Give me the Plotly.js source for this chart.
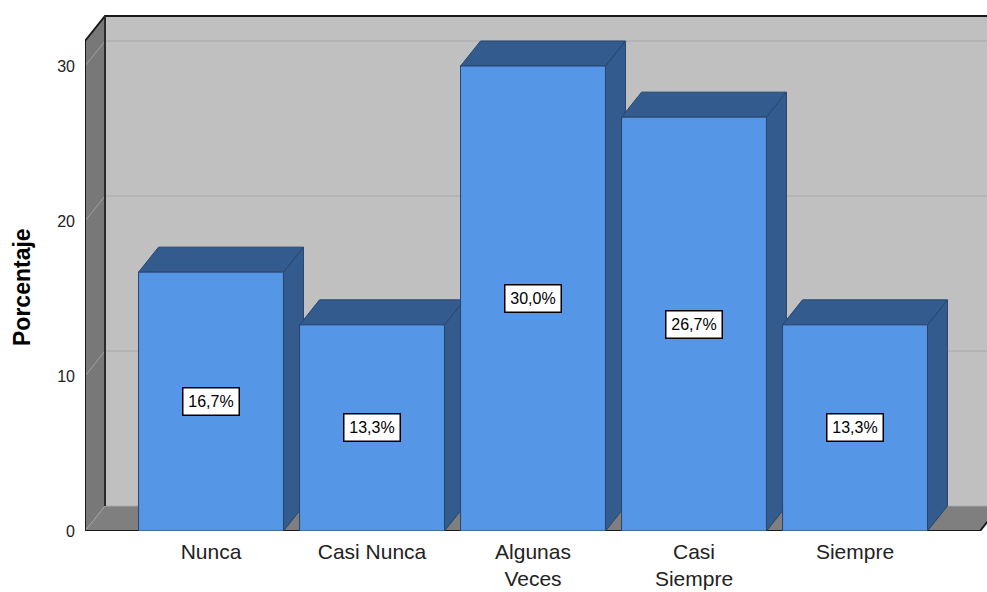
<!DOCTYPE html>
<html>
<head>
<meta charset="utf-8">
<script src="https://cdn.plot.ly/plotly-3.0.1.min.js"></script>
<style>
  html, body { margin: 0; padding: 0; background: #ffffff; }
  #chart { width: 987px; height: 592px; }
</style>
</head>
<body>
<div id="chart"></div>
<script>
// Frequency of answers, in percent of respondents
const categories = ['Nunca', 'Casi Nunca', 'Algunas<br>Veces', 'Casi<br>Siempre', 'Siempre'];
const percentages = [16.7, 13.3, 30.0, 26.7, 13.3];
const yTicks = [0, 10, 20, 30];

// Pseudo-3D frame geometry, in axis units
const PX_X = 161;            // pixels per category step
const PX_Y = 15.5;           // pixels per percentage point
const DEPTH_X = 20 / PX_X;   // horizontal depth offset
const DEPTH_Y = 25 / PX_Y;   // vertical depth offset
const X_MIN = -126 / PX_X;
const X_MAX = X_MIN + 902 / PX_X;
const Y_MAX = 531 / PX_Y;
const WALL_TOP = 515 / PX_Y;
const FLOOR_END = 769 / PX_X;
const BAR_W = 0.9;

const FRONT = '#5596e6';
const DEPTH_FACE = '#335b8e';
const EDGE = '#27466e';

const idx = categories.map((_, i) => i);

// Tops and right-hand sides of the bars (drawn beneath the fronts)
const depthTraces = [];
percentages.forEach((v, i) => {
  const l = i - BAR_W / 2, r = i + BAR_W / 2;
  depthTraces.push({
    type: 'scatter', mode: 'lines', fill: 'toself', hoverinfo: 'skip',
    x: [r, r + DEPTH_X, r + DEPTH_X, r, r],
    y: [0, DEPTH_Y, v + DEPTH_Y, v, 0],
    fillcolor: DEPTH_FACE, line: {color: EDGE, width: 1},
    xaxis: 'x', yaxis: 'y', showlegend: false
  });
  depthTraces.push({
    type: 'scatter', mode: 'lines', fill: 'toself', hoverinfo: 'skip',
    x: [l, r, r + DEPTH_X, l + DEPTH_X, l],
    y: [v, v, v + DEPTH_Y, v + DEPTH_Y, v],
    fillcolor: DEPTH_FACE, line: {color: EDGE, width: 1},
    xaxis: 'x', yaxis: 'y', showlegend: false
  });
});

// Bar fronts, on an overlaid pair of axes so they sit above the depth faces
const fronts = {
  type: 'bar', x: idx, y: percentages, width: BAR_W,
  marker: {color: FRONT, line: {color: EDGE, width: 1}},
  xaxis: 'x2', yaxis: 'y2', hoverinfo: 'skip', showlegend: false
};

// Walls, floor and grid
const shapes = [];
const path = pts => 'M' + pts.map(p => p[0] + ',' + p[1]).join(' L') + ' Z';
const openPath = pts => 'M' + pts.map(p => p[0] + ',' + p[1]).join(' L');
const XB = X_MIN + DEPTH_X;
const XR = X_MAX + 1;

shapes.push({type: 'rect', layer: 'below', xref: 'x', yref: 'y',
  x0: XB, x1: XR, y0: DEPTH_Y, y1: WALL_TOP,
  fillcolor: '#c0c0c0', line: {width: 0}});
shapes.push({type: 'path', layer: 'below', xref: 'x', yref: 'y',
  path: path([[X_MIN, 0], [XB, DEPTH_Y], [XB, WALL_TOP], [X_MIN, WALL_TOP - DEPTH_Y]]),
  fillcolor: '#787878', line: {width: 0}});
shapes.push({type: 'path', layer: 'below', xref: 'x', yref: 'y',
  path: path([[X_MIN, 0], [FLOOR_END, 0], [FLOOR_END + DEPTH_X, DEPTH_Y], [XR, DEPTH_Y], [XB, DEPTH_Y]]),
  fillcolor: '#7f7f7f', line: {width: 0}});
// corner seam between left wall and floor
shapes.push({type: 'line', layer: 'below', xref: 'x', yref: 'y',
  x0: X_MIN, y0: 0, x1: XB, y1: DEPTH_Y, line: {color: '#a2a2a2', width: 1}});
// seam between back wall and floor
shapes.push({type: 'line', layer: 'below', xref: 'x', yref: 'y',
  x0: XB, y0: DEPTH_Y, x1: XR, y1: DEPTH_Y, line: {color: '#a8a8a8', width: 1}});

yTicks.filter(t => t > 0).forEach(t => {
  shapes.push({type: 'line', layer: 'below', xref: 'x', yref: 'y',
    x0: XB, y0: t + DEPTH_Y, x1: XR, y1: t + DEPTH_Y,
    line: {color: '#b0b0b0', width: 1.5}});
  shapes.push({type: 'line', layer: 'below', xref: 'x', yref: 'y',
    x0: X_MIN, y0: t, x1: XB, y1: t + DEPTH_Y,
    line: {color: '#a0a0a0', width: 1}});
});

// dark frame edges
shapes.push({type: 'path', layer: 'below', xref: 'x', yref: 'y',
  path: openPath([[X_MIN, 0], [X_MIN, WALL_TOP - DEPTH_Y], [XB, WALL_TOP], [XR, WALL_TOP]]),
  line: {color: '#1a1a1a', width: 2}});
shapes.push({type: 'line', layer: 'below', xref: 'x', yref: 'y',
  x0: XB, y0: DEPTH_Y, x1: XB, y1: WALL_TOP, line: {color: '#2a2a2a', width: 2}});
shapes.push({type: 'path', layer: 'below', xref: 'x', yref: 'y',
  path: openPath([[X_MIN, 0], [FLOOR_END, 0], [FLOOR_END + DEPTH_X, DEPTH_Y]]),
  line: {color: '#1a1a1a', width: 2}});

// Value labels on the bar fronts
const fmt = v => v.toFixed(1).replace('.', ',') + '%';
const annotations = percentages.map((v, i) => ({
  xref: 'x', yref: 'y', x: i, y: v / 2, text: fmt(v), showarrow: false,
  font: {family: 'Arial, "Liberation Sans", sans-serif', size: 16, color: '#000'},
  bgcolor: '#ffffff', bordercolor: '#000000', borderwidth: 1.5, borderpad: 2,
  width: 51, height: 22
}));

// Axis title, placed at the vertical centre of the label column
annotations.push({
  xref: 'paper', yref: 'paper', x: (22 - 85) / 902, y: (531 - 287) / 531,
  xanchor: 'center', yanchor: 'middle', textangle: -90, showarrow: false,
  text: '<b>Porcentaje</b>',
  font: {family: 'Arial, "Liberation Sans", sans-serif', size: 23, color: '#000'}
});

const layout = {
  width: 987, height: 592,
  margin: {l: 85, r: 0, t: 0, b: 61, pad: 0},
  paper_bgcolor: '#ffffff', plot_bgcolor: 'rgba(0,0,0,0)',
  showlegend: false,
  font: {family: 'Arial, "Liberation Sans", sans-serif', color: '#222'},
  xaxis: {
    range: [X_MIN, X_MAX], tickvals: idx, ticktext: categories,
    showgrid: false, zeroline: false, showline: false, ticks: '',
    tickfont: {size: 21, color: '#222'}, ticklabelstandoff: 6,
    fixedrange: true, automargin: false
  },
  yaxis: {
    range: [0, Y_MAX], tickvals: yTicks,
    showgrid: false, zeroline: false, showline: false, ticks: '',
    tickfont: {size: 16, color: '#222'}, ticklabelstandoff: 9,
    fixedrange: true, automargin: false
  },
  xaxis2: {range: [X_MIN, X_MAX], overlaying: 'x', visible: false, fixedrange: true},
  yaxis2: {range: [0, Y_MAX], overlaying: 'y', visible: false, fixedrange: true},
  shapes: shapes,
  annotations: annotations
};

Plotly.newPlot('chart', depthTraces.concat([fronts]), layout, {displayModeBar: false, staticPlot: true});
</script>
</body>
</html>
